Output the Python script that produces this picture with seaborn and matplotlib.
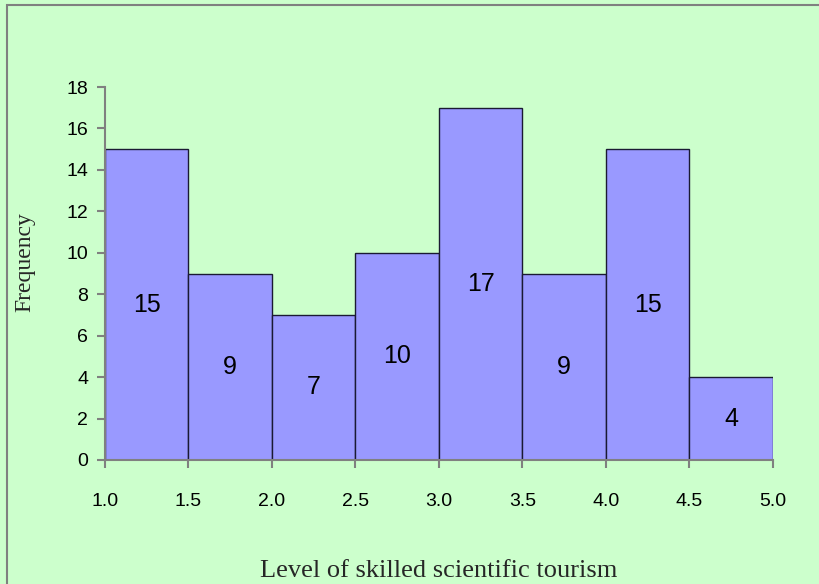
import matplotlib
matplotlib.use("Agg")
import matplotlib.pyplot as plt
import seaborn as sns
import numpy as np
import pandas as pd
from matplotlib.patches import Rectangle

bin_edges = [1.0, 1.5, 2.0, 2.5, 3.0, 3.5, 4.0, 4.5, 5.0]
counts = [15, 9, 7, 10, 17, 9, 15, 4]
x_ticks = [1.0, 1.5, 2.0, 2.5, 3.0, 3.5, 4.0, 4.5, 5.0]
y_ticks = [0, 2, 4, 6, 8, 10, 12, 14, 16, 18]

mids = [(a + b) / 2 for a, b in zip(bin_edges[:-1], bin_edges[1:])]
df = pd.DataFrame({"level": mids, "freq": counts})

sns.set_style("white")
plt.rcParams['font.family'] = ['Liberation Sans', 'DejaVu Sans']

bg = "#CCFFCC"
fig = plt.figure(figsize=(8.2, 5.84), dpi=100, facecolor=bg)
ax = fig.add_axes([105/820, 1 - 460/584, (773-105)/820, (460-87)/584])
ax.set_facecolor(bg)

sns.histplot(data=df, x="level", weights="freq", bins=bin_edges, ax=ax,
             color="#9999FF", alpha=1, edgecolor="#1a1a33", linewidth=1)

ax.set_xlim(1.0, 5.0)
ax.set_ylim(0, 18)
ax.set_xticks(x_ticks)
ax.set_xticklabels([f"{t:.1f}" for t in x_ticks])
ax.set_yticks(y_ticks)
ax.set_yticklabels([str(t) for t in y_ticks])

for s in ["top", "right"]:
    ax.spines[s].set_visible(False)
for s in ["left", "bottom"]:
    ax.spines[s].set_color("#808080")
    ax.spines[s].set_linewidth(1.5)
ax.tick_params(axis="both", which="major", direction="out", length=6,
               width=1.5, color="#808080", labelsize=14, labelcolor="black",
               bottom=True, left=True)
ax.tick_params(axis="x", pad=18)
ax.tick_params(axis="y", pad=6)

for m, c in zip(mids, counts):
    ax.text(m, c / 2, str(c), ha="center", va="center", fontsize=18, color="black")

ax.set_xlabel("Level of skilled scientific tourism", fontsize=19,
              family=["Liberation Serif", "DejaVu Serif"], labelpad=36)
ax.set_ylabel("Frequency", fontsize=17,
              family=["Liberation Serif", "DejaVu Serif"])
ax.yaxis.set_label_coords(-0.104, (460 - 262) / (460 - 87))

fig.patches.append(Rectangle((7/820, -0.1), 1.2, 1 - 5/584 + 0.1,
                             transform=fig.transFigure, fill=False,
                             edgecolor="#808080", linewidth=1.5, zorder=0))

fig.savefig("out.png", dpi=100, facecolor=bg)
